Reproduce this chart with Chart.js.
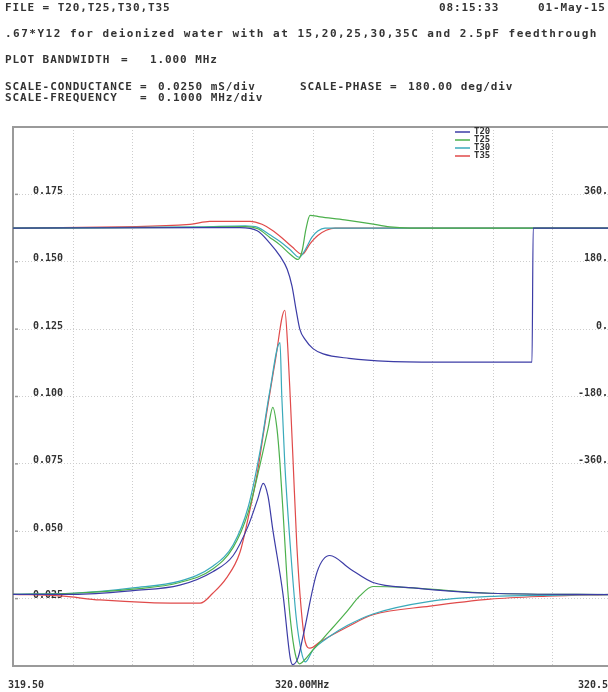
<!DOCTYPE html>
<html>
<head>
<meta charset="utf-8">
<script src="https://cdn.jsdelivr.net/npm/chart.js@4"></script>
<style>
  html, body { margin: 0; padding: 0; background: #fff; width: 608px; height: 692px; overflow: hidden; }
  #wrap { position: relative; width: 608px; height: 692px; overflow: hidden; }
  canvas { position: absolute; left: 0; top: 0; }
  .hdr { position: absolute; font: bold 11px "DejaVu Sans Mono", monospace; letter-spacing: 0.9px;
         color: #333; white-space: pre; line-height: 12px; }
</style>
</head>
<body>
<div id="wrap">
  <canvas id="c" width="620" height="692"></canvas>
  <div class="hdr" style="left:5px;top:2px">FILE = T20,T25,T30,T35</div>
  <div class="hdr" style="left:439px;top:2px">08:15:33</div>
  <div class="hdr" style="left:538px;top:2px">01-May-15</div>
  <div class="hdr" style="left:5px;top:28px;letter-spacing:1.5px">.67*Y12 for deionized water with at 15,20,25,30,35C and 2.5pF feedthrough</div>
  <div class="hdr" style="left:5px;top:54px">PLOT BANDWIDTH</div>
  <div class="hdr" style="left:121px;top:54px">=</div>
  <div class="hdr" style="left:150px;top:54px">1.000 MHz</div>
  <div class="hdr" style="left:5px;top:81px">SCALE-CONDUCTANCE</div>
  <div class="hdr" style="left:140px;top:81px">=</div>
  <div class="hdr" style="left:158px;top:81px">0.0250 mS/div</div>
  <div class="hdr" style="left:300px;top:81px">SCALE-PHASE</div>
  <div class="hdr" style="left:390px;top:81px">=</div>
  <div class="hdr" style="left:408px;top:81px">180.00 deg/div</div>
  <div class="hdr" style="left:5px;top:92px">SCALE-FREQUENCY</div>
  <div class="hdr" style="left:140px;top:92px">=</div>
  <div class="hdr" style="left:158px;top:92px">0.1000 MHz/div</div>
</div>
<script>
// series names and frequency tick labels
const seriesLabels = ['T20', 'T25', 'T30', 'T35'];
const freqTickValues = [319.5, 320.0, 320.5];
const freqTickLabels = ['319.50', '320.00MHz', '320.50'];

// conductance (mS) vs frequency (MHz)
const t20Freq = [319.500, 319.600, 319.700, 319.778, 319.833, 319.867, 319.892, 319.908, 319.917, 319.925, 319.933, 319.950, 319.962, 319.966, 319.975, 319.983, 320.007, 320.028, 320.062, 320.100, 320.167, 320.295, 320.500];
const t20Cond = [0.0266, 0.0266, 0.0280, 0.0300, 0.0350, 0.0410, 0.0520, 0.0620, 0.0678, 0.0630, 0.0506, 0.0266, 0.0030, 0.0005, 0.0030, 0.0106, 0.0350, 0.0410, 0.0360, 0.0310, 0.0290, 0.0270, 0.0265];

const t25Freq = [319.500, 319.600, 319.700, 319.778, 319.833, 319.867, 319.892, 319.912, 319.925, 319.933, 319.940, 319.945, 319.952, 319.958, 319.965, 319.972, 319.978, 319.987, 320.000, 320.028, 320.057, 320.078, 320.100, 320.145, 320.195, 320.295, 320.500];
const t25Cond = [0.0266, 0.0270, 0.0285, 0.0310, 0.0360, 0.0440, 0.0570, 0.0750, 0.0880, 0.0960, 0.0880, 0.0750, 0.0500, 0.0280, 0.0120, 0.0030, 0.0008, 0.0025, 0.0060, 0.0130, 0.0204, 0.0260, 0.0295, 0.0293, 0.0285, 0.0270, 0.0265];

const t30Freq = [319.500, 319.600, 319.700, 319.778, 319.833, 319.867, 319.892, 319.912, 319.928, 319.945, 319.948, 319.953, 319.962, 319.972, 319.980, 319.987, 320.000, 320.028, 320.057, 320.100, 320.195, 320.295, 320.412, 320.500];
const t30Cond = [0.0266, 0.0270, 0.0290, 0.0315, 0.0370, 0.0450, 0.0590, 0.0800, 0.1020, 0.1200, 0.1000, 0.0750, 0.0450, 0.0180, 0.0060, 0.0015, 0.0060, 0.0110, 0.0150, 0.0193, 0.0240, 0.0258, 0.0263, 0.0266];

const t35Freq = [319.500, 319.578, 319.645, 319.728, 319.812, 319.833, 319.855, 319.878, 319.892, 319.907, 319.920, 319.937, 319.953, 319.958, 319.962, 319.967, 319.973, 319.980, 319.987, 319.995, 320.012, 320.057, 320.100, 320.195, 320.295, 320.390, 320.500];
const t35Cond = [0.0266, 0.0260, 0.0245, 0.0235, 0.0233, 0.0270, 0.0324, 0.0420, 0.0550, 0.0714, 0.0900, 0.1130, 0.1320, 0.1180, 0.1000, 0.0750, 0.0450, 0.0220, 0.0090, 0.0066, 0.0090, 0.0145, 0.0190, 0.0222, 0.0248, 0.0259, 0.0266];

// phase (deg) vs frequency (MHz)
const t20PhaseFreq = [319.500, 319.812, 319.878, 319.907, 319.928, 319.945, 319.957, 319.965, 319.972, 319.978, 319.987, 320.000, 320.017, 320.060, 320.125, 320.228, 320.365, 320.367, 320.500];
const t20Phase = [270, 271, 271, 263, 230, 195, 160, 115, 50, 0, -28, -52, -66, -78, -86, -88, -88, 270, 270];

const t25PhaseFreq = [319.500, 319.812, 319.887, 319.908, 319.928, 319.945, 319.962, 319.975, 319.982, 319.988, 319.995, 320.012, 320.053, 320.095, 320.128, 320.162, 320.500];
const t25Phase = [270, 272, 274, 268, 245, 225, 200, 186, 210, 265, 304, 300, 292, 282, 273, 270, 270];

const t30PhaseFreq = [319.500, 319.812, 319.887, 319.908, 319.928, 319.945, 319.962, 319.977, 319.987, 319.998, 320.008, 320.020, 320.500];
const t30Phase = [270, 273, 276, 272, 252, 234, 212, 192, 212, 245, 262, 270, 270];

const t35PhaseFreq = [319.500, 319.795, 319.828, 319.895, 319.915, 319.932, 319.948, 319.965, 319.982, 319.995, 320.008, 320.022, 320.037, 320.500];
const t35Phase = [270, 280, 288, 288, 280, 264, 244, 220, 200, 228, 250, 264, 270, 270];

const colors = ['#3c3ca6', '#4cb04c', '#3aaabb', '#e04a4a'];
const monoFont = 'DejaVu Sans Mono';

const pts = (xs, ys) => xs.map((x, i) => ({ x, y: ys[i] }));

const condSets = [[t20Freq, t20Cond], [t25Freq, t25Cond], [t30Freq, t30Cond], [t35Freq, t35Cond]];
const phaseSets = [[t20PhaseFreq, t20Phase], [t25PhaseFreq, t25Phase], [t30PhaseFreq, t30Phase], [t35PhaseFreq, t35Phase]];

const datasets = [];
phaseSets.forEach(([f, p], i) => datasets.push({
    label: seriesLabels[i] + ' phase', data: pts(f, p), yAxisID: 'phase',
    borderColor: colors[i], showLine: true
}));
condSets.forEach(([f, c], i) => datasets.push({
    label: seriesLabels[i], data: pts(f, c), yAxisID: 'y',
    borderColor: colors[i], showLine: true
}));

// frame, little left tick marks, frequency labels and the small legend
const decor = {
    id: 'decor',
    beforeDatasetsDraw(chart) {
        const { ctx, chartArea: a } = chart;
        const ys = chart.scales.y;
        ctx.save();
        ctx.strokeStyle = '#9a9a9a';
        ctx.lineWidth = 2;
        ctx.strokeRect(a.left, a.top, a.right - a.left, a.bottom - a.top);
        ctx.lineWidth = 1.5;
        ys.ticks.forEach(t => {
            const y = ys.getPixelForValue(t.value);
            ctx.beginPath();
            ctx.moveTo(a.left + 2, y);
            ctx.lineTo(a.left + 5, y);
            ctx.stroke();
        });
        ctx.restore();
    },
    afterDraw(chart) {
        const { ctx } = chart;
        const xs = chart.scales.x;
        ctx.save();
        ctx.fillStyle = '#333';
        ctx.font = 'bold 10px "' + monoFont + '"';
        ctx.textBaseline = 'middle';
        const shift = [-5, -38, -35];
        freqTickValues.forEach((v, i) => {
            ctx.fillText(freqTickLabels[i], xs.getPixelForValue(v) + shift[i], 685);
        });
        ctx.font = 'bold 9px "' + monoFont + '"';
        seriesLabels.forEach((name, i) => {
            const y = 132 + i * 8;
            ctx.strokeStyle = colors[i];
            ctx.lineWidth = 1.5;
            ctx.beginPath();
            ctx.moveTo(455, y);
            ctx.lineTo(470, y);
            ctx.stroke();
            ctx.fillText(name, 474, y);
        });
        ctx.restore();
    }
};

const gridStyle = { color: '#cdcdcd', lineWidth: 1, drawTicks: false };
const tickFont = { family: monoFont, size: 10, weight: 'bold' };
const noWidth = s => { s.width = 0; };
const noHeight = s => { s.height = 0; };

new Chart(document.getElementById('c'), {
    type: 'scatter',
    data: { datasets },
    options: {
        responsive: false,
        animation: false,
        layout: { padding: { left: 13, top: 127, right: 7, bottom: 16 } },
        plugins: { legend: { display: false }, tooltip: { enabled: false } },
        elements: {
            point: { radius: 0 },
            line: { borderWidth: 1.2, cubicInterpolationMode: 'monotone' }
        },
        scales: {
            x: {
                type: 'linear', min: 319.5, max: 320.5,
                ticks: { stepSize: 0.1, display: false },
                grid: gridStyle,
                border: { display: false, dash: [1, 2] },
                afterFit: noHeight
            },
            y: {
                min: 0, max: 0.2,
                ticks: {
                    stepSize: 0.025, mirror: true, padding: 20, labelOffset: -3,
                    font: tickFont, color: '#333',
                    callback: v => (v > 0.001 && v < 0.199) ? v.toFixed(3) : ''
                },
                grid: gridStyle,
                border: { display: false, dash: [1, 2] },
                afterFit: noWidth
            },
            phase: {
                position: 'right', min: -900, max: 540,
                ticks: {
                    stepSize: 180, mirror: true, padding: -5, labelOffset: -3,
                    font: tickFont, color: '#333',
                    callback: v => Math.abs(v) <= 360 ? v + '.' : ''
                },
                grid: { display: false, drawTicks: false },
                border: { display: false },
                afterFit: noWidth
            }
        }
    },
    plugins: [decor]
});
</script>
</body>
</html>
